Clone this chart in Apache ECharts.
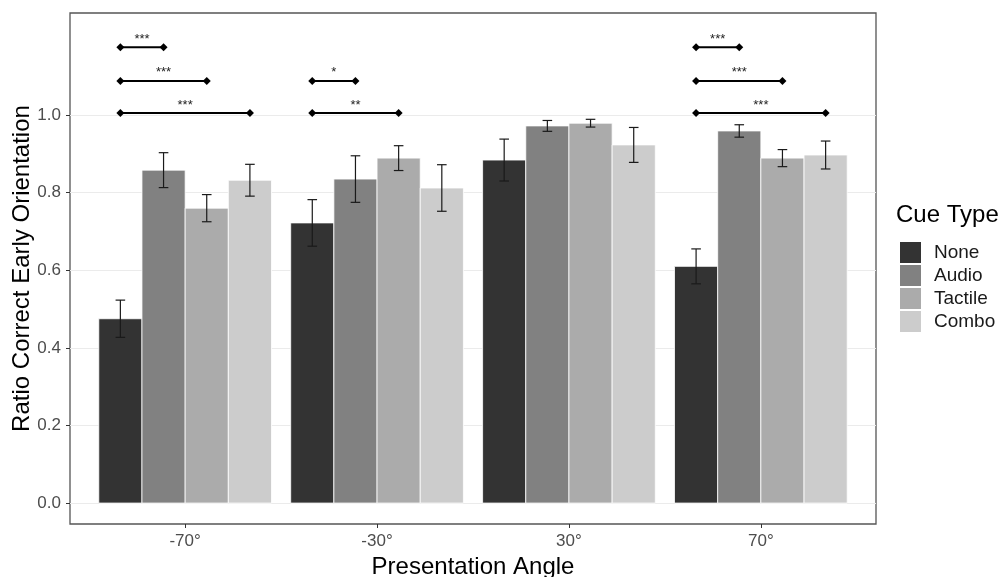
<!DOCTYPE html>
<html>
<head>
<meta charset="utf-8">
<script src="https://cdn.jsdelivr.net/npm/echarts@6/dist/echarts.min.js"></script>
<style>
html,body{margin:0;padding:0;background:#fff;}
#chart{width:1006px;height:577px;}
</style>
</head>
<body>
<div id="chart"></div>
<script>
const categories = ['-70°', '-30°', '30°', '70°'];
const cueTypes = ['None', 'Audio', 'Tactile', 'Combo'];
const cueColors = ['#333333', '#818181', '#ABABAB', '#CCCCCC'];

const noneMean = [0.475, 0.722, 0.884, 0.610];
const noneErr = [0.048, 0.060, 0.054, 0.045];
const audioMean = [0.858, 0.835, 0.972, 0.959];
const audioErr = [0.045, 0.060, 0.014, 0.016];
const tactileMean = [0.760, 0.889, 0.979, 0.889];
const tactileErr = [0.035, 0.032, 0.010, 0.022];
const comboMean = [0.832, 0.812, 0.923, 0.897];
const comboErr = [0.041, 0.060, 0.045, 0.036];

const yTicks = [0, 0.2, 0.4, 0.6, 0.8, 1.0];

// significance brackets
const bracketCat = [0, 0, 0, 1, 1, 3, 3, 3];
const bracketFrom = [0, 0, 0, 0, 0, 0, 0, 0];
const bracketTo = [1, 2, 3, 1, 2, 1, 2, 3];
const bracketY = [1.175, 1.088, 1.005, 1.088, 1.005, 1.175, 1.088, 1.005];
const bracketLabel = ['***', '***', '***', '*', '**', '***', '***', '***'];

const means = [noneMean, audioMean, tactileMean, comboMean];
const errs = [noneErr, audioErr, tactileErr, comboErr];

const groupWidth = 0.9;
const barW = groupWidth / cueTypes.length;
const offsets = cueTypes.map((c, i) => (i - (cueTypes.length - 1) / 2) * barW);
const FONT = '"Liberation Sans", Arial, sans-serif';

function barRender(si) {
  return function (params, api) {
    const x = api.value(0) + offsets[si];
    const y = api.value(1);
    const e = api.value(2);
    const pL = api.coord([x - barW / 2, y]);
    const pR = api.coord([x + barW / 2, 0]);
    const capHalf = 0.025;
    const top = api.coord([x, y + e]);
    const bot = api.coord([x, y - e]);
    const cl = api.coord([x - capHalf, 0])[0];
    const cr = api.coord([x + capHalf, 0])[0];
    const es = { stroke: '#1a1a1a', lineWidth: 1.2 };
    return {
      type: 'group',
      children: [
        { type: 'rect', shape: { x: pL[0], y: pL[1], width: pR[0] - pL[0], height: pR[1] - pL[1] },
          style: { fill: cueColors[si], stroke: '#ffffff', lineWidth: 0.8 } },
        { type: 'line', shape: { x1: top[0], y1: top[1], x2: bot[0], y2: bot[1] }, style: es },
        { type: 'line', shape: { x1: cl, y1: top[1], x2: cr, y2: top[1] }, style: es },
        { type: 'line', shape: { x1: cl, y1: bot[1], x2: cr, y2: bot[1] }, style: es }
      ]
    };
  };
}

const barSeries = cueTypes.map((name, si) => ({
  name: name,
  type: 'custom',
  itemStyle: { color: cueColors[si] },
  encode: { x: 0, y: 1 },
  data: categories.map((c, i) => [i + 1, means[si][i], errs[si][i]]),
  renderItem: barRender(si),
  z: 2
}));

const bracketData = bracketCat.map((c, i) => [c + 1 + offsets[bracketFrom[i]], c + 1 + offsets[bracketTo[i]], bracketY[i], i]);

const bracketSeries = {
  type: 'custom',
  name: 'brackets',
  encode: { x: [0, 1], y: 2 },
  data: bracketData,
  z: 5,
  renderItem: function (params, api) {
    const p1 = api.coord([api.value(0), api.value(2)]);
    const p2 = api.coord([api.value(1), api.value(2)]);
    const lbl = bracketLabel[api.value(3)];
    const d = 4;
    const diamond = (p) => ({
      type: 'polygon',
      shape: { points: [[p[0] - d, p[1]], [p[0], p[1] - d], [p[0] + d, p[1]], [p[0], p[1] + d]] },
      style: { fill: '#000' }
    });
    return {
      type: 'group',
      children: [
        { type: 'line', shape: { x1: p1[0], y1: p1[1], x2: p2[0], y2: p2[1] }, style: { stroke: '#000', lineWidth: 2 } },
        diamond(p1), diamond(p2),
        { type: 'text', style: { x: (p1[0] + p2[0]) / 2, y: p1[1] - 8, text: lbl, fill: '#222',
            font: '13px ' + FONT, align: 'center', verticalAlign: 'middle' } }
      ]
    };
  }
};

const chart = echarts.init(document.getElementById('chart'), null, { renderer: 'canvas' });
chart.setOption({
  animation: false,
  backgroundColor: '#ffffff',
  textStyle: { fontFamily: FONT },
  title: {
    text: 'Cue Type',
    left: 896, top: 203, padding: 0,
    textStyle: { fontSize: 24, fontWeight: 'normal', color: '#000', fontFamily: FONT }
  },
  legend: {
    data: cueTypes,
    orient: 'vertical',
    left: 900, top: 242, padding: 0,
    itemWidth: 21, itemHeight: 21, itemGap: 2,
    icon: 'rect',
    selectedMode: false,
    textStyle: { fontSize: 19, color: '#1a1a1a', fontFamily: FONT, padding: [0, 0, 0, 8] }
  },
  grid: {
    left: 70, right: 130, top: 13, bottom: 53,
    outerBoundsMode: 'none', containLabel: false,
    show: true, borderColor: '#555555', borderWidth: 1.3, backgroundColor: 'transparent'
  },
  xAxis: {
    type: 'value', min: 0.4, max: 4.6,
    name: 'Presentation Angle', nameLocation: 'middle', nameGap: 30,
    nameTextStyle: { fontSize: 24, color: '#000', fontFamily: FONT },
    axisLine: { show: false, onZero: false },
    splitLine: { show: false },
    axisTick: { show: true, length: 4, lineStyle: { color: '#333' }, customValues: [1, 2, 3, 4] },
    axisLabel: { customValues: [1, 2, 3, 4], margin: 9, fontSize: 17, color: '#4d4d4d', fontFamily: FONT,
      formatter: (v) => categories[Math.round(v) - 1] }
  },
  yAxis: {
    type: 'value', min: -0.054, max: 1.263,
    name: 'Ratio Correct Early Orientation', nameLocation: 'middle', nameGap: 36, nameRotate: 90,
    nameMoveOverlap: false,
    nameTextStyle: { fontSize: 24, color: '#000', fontFamily: FONT },
    axisLine: { show: false, onZero: false },
    axisTick: { show: true, length: 4, lineStyle: { color: '#333' }, customValues: yTicks },
    axisLabel: { customValues: yTicks, margin: 9, fontSize: 17, color: '#4d4d4d', fontFamily: FONT,
      formatter: (v) => v.toFixed(1) },
    splitLine: { show: true, lineStyle: { color: '#ebebeb', width: 1 } }
  },
  series: barSeries.concat([bracketSeries])
});
</script>
</body>
</html>
